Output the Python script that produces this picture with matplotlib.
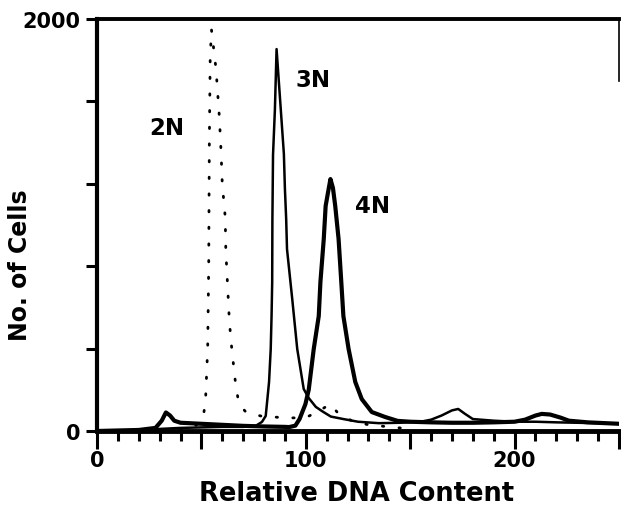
"""
DNA content histograms of 2N, 3N and 4N cell populations (flow cytometry).
"""

import matplotlib
matplotlib.use('Agg')
import matplotlib.pyplot as plt
from matplotlib.ticker import MultipleLocator

# 2N population (dotted)
X_2N = [0, 30, 45, 49, 51, 52, 53, 53.5, 53.8, 54.2, 54.8, 55.6, 57, 58.6, 59.4, 60, 61.4, 61.7,
        62.5, 63.3, 64, 64.8, 65.7, 66.5, 68, 71.3, 78.4, 91, 100, 106, 111.7, 116, 122, 130, 140, 150]
Y_2N = [0, 0, 10, 40, 73, 155, 400, 800, 1400, 1800, 1950, 1880, 1757, 1524, 1359, 1199, 1039, 874,
        714, 553, 456, 374, 291, 218, 131, 92, 73, 63, 65, 95, 131, 80, 50, 30, 20, 10]

# 3N population (thin solid)
X_3N = [0, 20, 40, 60, 70, 76, 79, 80.8, 81.6, 82.4, 83.2, 83.6, 83.9, 84.0, 84.3, 85.2, 86, 87.9,
        89.5, 90, 90.6, 91, 93.5, 95.9, 99, 101.4, 104.8, 108, 112, 118, 125, 135, 145, 155, 160,
        165, 170, 173, 176, 180, 190, 200, 210, 220, 230, 240, 250]
Y_3N = [0, 5, 15, 20, 20, 25, 44, 73, 155, 238, 398, 558, 720, 1020, 1340, 1560, 1854, 1578,
        1345, 1175, 1029, 883, 641, 398, 204, 160, 117, 95, 70, 58, 45, 38, 40, 45, 55,
        75, 100, 107, 85, 58, 50, 45, 45, 42, 40, 38, 35]

# 4N population (thick solid)
X_4N = [0, 20, 28, 31, 33, 35, 37, 40, 50, 60, 70, 80, 90, 92, 95, 97, 99.8, 101.4, 103.8, 106.2,
        107, 108.6, 109.5, 110.5, 111.8, 113, 114.1, 115.7, 117, 118, 120.5, 123.7, 126.8, 131.6,
        138, 144, 150, 160, 170, 180, 190, 200, 205, 210, 213, 217, 222, 226, 235, 250]
Y_4N = [0, 5, 15, 50, 90, 75, 50, 40, 35, 30, 25, 22, 20, 19, 26, 58, 130, 200, 398, 558,
        723, 932, 1092, 1150, 1223, 1180, 1092, 932, 723, 558, 398, 238, 155, 92,
        68, 49, 45, 42, 40, 40, 42, 45, 55, 75, 83, 80, 65, 50, 42, 35]

PEAK_LABELS = ['2N', '3N', '4N']
LABEL_X = [33.3, 103.7, 131.9]
LABEL_Y = [1471, 1704, 1097]

X_TICKS = [0, 50, 100, 150, 200, 250]
X_TICK_LABELS = ['0', '', '100', '', '200', '']
Y_TICKS = [0, 400, 800, 1200, 1600, 2000]
Y_TICK_LABELS = ['0', '', '', '', '', '2000']

FONT = 'DejaVu Sans'


def main():
    fig = plt.figure(figsize=(6.21, 5.06), dpi=100)
    ax = fig.add_axes([97 / 621, 74 / 506, 522 / 621, 412 / 506])

    ax.plot(X_2N, Y_2N, color='black', linewidth=2.0, linestyle=(0, (0.5, 5.5)),
            dash_capstyle='round')
    ax.plot(X_3N, Y_3N, color='black', linewidth=1.8)
    ax.plot(X_4N, Y_4N, color='black', linewidth=3.0)

    for label, x, y in zip(PEAK_LABELS, LABEL_X, LABEL_Y):
        ax.text(x, y, label, fontsize=16.5, fontweight='bold', family=FONT,
                ha='center', va='center')

    ax.set_xlim(0, 250)
    ax.set_ylim(0, 2000)

    ax.set_xticks(X_TICKS)
    ax.set_xticklabels(X_TICK_LABELS, fontsize=15, fontweight='bold', family=FONT)
    ax.xaxis.set_minor_locator(MultipleLocator(10))
    ax.set_yticks(Y_TICKS)
    ax.set_yticklabels(Y_TICK_LABELS, fontsize=15, fontweight='bold', family=FONT)

    ax.tick_params(axis='x', which='major', direction='out', length=13, width=2.2, pad=1)
    ax.tick_params(axis='x', which='minor', direction='out', length=7, width=2.2)
    ax.tick_params(axis='y', which='major', direction='out', length=8, width=2.2, pad=4)

    ax.spines['left'].set_linewidth(3.0)
    ax.spines['bottom'].set_linewidth(3.5)
    ax.spines['top'].set_linewidth(2.8)
    ax.spines['right'].set_linewidth(1.2)
    ax.spines['right'].set_bounds(1700, 2000)

    ax.set_xlabel('Relative DNA Content', fontsize=18.5, fontweight='bold', family=FONT)
    ax.xaxis.set_label_coords(0.497, -0.118)
    ax.set_ylabel('No. of Cells', fontsize=17, fontweight='bold', family=FONT)
    ax.yaxis.set_label_coords(-0.1245, 0.405)

    fig.savefig('out.png', dpi=100)
    plt.close(fig)


if __name__ == '__main__':
    main()
